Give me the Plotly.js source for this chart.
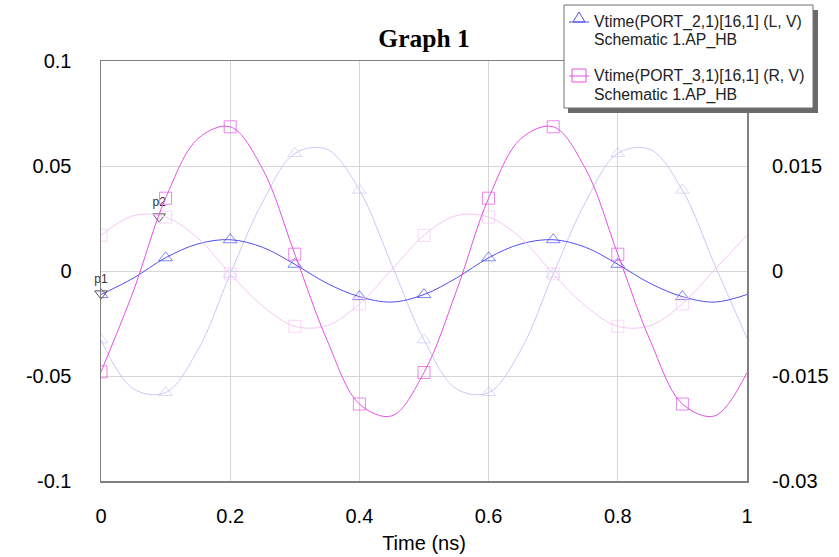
<!DOCTYPE html>
<html>
<head>
<meta charset="utf-8">
<script src="https://cdn.plot.ly/plotly-3.0.1.min.js"></script>
<style>html,body{margin:0;padding:0;background:#fff;}#chart{width:839px;height:557px;}</style>
</head>
<body>
<div id="chart"></div>
<script>
// Time axis samples (ns)
const time = [0,0.05,0.1,0.15,0.2,0.25,0.3,0.35,0.4,0.45,0.5,0.55,0.6,0.65,0.7,0.75,0.8,0.85,0.9,0.95,1.0];
// Vtime(PORT_2) – left axis (V)
const vPort2 = [-0.0112,-0.0034,0.0063,0.0129,0.0149,0.0113,0.0032,-0.0059,-0.0122,-0.0148,-0.0112,-0.0034,0.0063,0.0129,0.0149,0.0113,0.0032,-0.0059,-0.0122,-0.0148,-0.0112];
// Vtime(PORT_3) – right axis (V)
const vPort3 = [-0.0144,-0.0029,0.0104,0.0189,0.0206,0.0146,0.0024,-0.0099,-0.0190,-0.0207,-0.0145,-0.0029,0.0104,0.0189,0.0206,0.0146,0.0024,-0.0099,-0.0190,-0.0207,-0.0145];
// faded (previous) traces
const vPort2Ghost = [-0.0328,-0.0561,-0.0579,-0.0376,-0.0015,0.0328,0.0560,0.0579,0.0385,0.0030,-0.0328,-0.0561,-0.0579,-0.0376,-0.0015,0.0328,0.0560,0.0579,0.0385,0.0030,-0.0320];
const vPort3Ghost = [0.0051,0.0079,0.0077,0.0047,-0.0004,-0.0050,-0.0079,-0.0078,-0.0047,0.0002,0.0051,0.0079,0.0077,0.0047,-0.0004,-0.0050,-0.0079,-0.0078,-0.0047,0.0002,0.0051];
// data markers p1, p2 (left axis units)
const markerNames = ['p1','p2'];
const markerX = [0, 0.09];
const markerY = [-0.0108, 0.0259];
// ticks
const xTicks = [0,0.2,0.4,0.6,0.8,1];
const xTickText = ['0','0.2','0.4','0.6','0.8','1'];
const yTicks = [-0.1,-0.05,0,0.05,0.1];
const yTickText = ['-0.1','-0.05','0','0.05','0.1'];
const y2Ticks = [-0.03,-0.015,0,0.015];
const y2TickText = ['-0.03','-0.015','0','0.015'];
// legend texts
const seriesNames = ['Vtime(PORT_2,1)[16,1] (L, V)','Vtime(PORT_3,1)[16,1] (R, V)'];
const seriesSources = ['Schematic 1.AP_HB','Schematic 1.AP_HB'];

const mk = time.map((t,i) => (i % 2 === 0 && i < time.length - 1) ? 12 : 0);
const FONT = 'Liberation Sans, Arial, sans-serif';
const BLUE = '#5050ee', PINK = '#e650e6', LBLUE = '#c9c9f6', LPINK = '#f6c6f6';

const traces = [
  {x: time, y: vPort2Ghost, yaxis: 'y', mode: 'lines+markers', line: {shape: 'spline', color: LBLUE, width: 1},
   marker: {symbol: 'triangle-up-open', size: mk, color: LBLUE, line: {width: 1}}, showlegend: false, hoverinfo: 'skip'},
  {x: time, y: vPort3Ghost, yaxis: 'y2', mode: 'lines+markers', line: {shape: 'spline', color: LPINK, width: 1},
   marker: {symbol: 'square-open', size: mk, color: LPINK, line: {width: 1}}, showlegend: false, hoverinfo: 'skip'},
  {x: time, y: vPort2, yaxis: 'y', name: seriesNames[0], mode: 'lines+markers', line: {shape: 'spline', color: BLUE, width: 1},
   marker: {symbol: 'triangle-up-open', size: mk, color: BLUE, line: {width: 1}}, showlegend: false},
  {x: time, y: vPort3, yaxis: 'y2', name: seriesNames[1], mode: 'lines+markers', line: {shape: 'spline', color: PINK, width: 1},
   marker: {symbol: 'square-open', size: mk, color: PINK, line: {width: 1}}, showlegend: false},
  {x: markerX, y: markerY, yaxis: 'y', mode: 'markers+text', text: markerNames, textposition: 'top center', cliponaxis: false,
   textfont: {family: FONT, size: 12, color: '#333'},
   marker: {symbol: 'triangle-down-open', size: 11, color: '#555', line: {width: 1}}, showlegend: false, hoverinfo: 'skip'}
];

// pixel -> paper helpers for the hand-drawn legend box
const PL = 101, PR = 747, PT = 61, PB = 481;
const px = v => (v - PL) / (PR - PL);
const py = v => (PB - v) / (PB - PT);

const legendColors = [BLUE, PINK];
const rowY = [22, 76];
const shapes = [
  {type: 'rect', xref: 'paper', yref: 'paper', x0: px(568), x1: px(818), y0: py(113), y1: py(10),
   fillcolor: '#6a6a6a', line: {width: 0}, layer: 'above'},
  {type: 'rect', xref: 'paper', yref: 'paper', x0: px(564), x1: px(813), y0: py(108), y1: py(5),
   fillcolor: '#ffffff', line: {width: 1, color: '#707070'}, layer: 'above'}
];
rowY.forEach((ry, i) => {
  shapes.push({type: 'line', xref: 'paper', yref: 'paper', x0: px(569), x1: px(589), y0: py(ry), y1: py(ry),
               line: {color: legendColors[i], width: 1}, layer: 'above'});
});
shapes.push({type: 'path', xref: 'paper', yref: 'paper', layer: 'above',
  path: `M ${px(573)} ${py(22)} L ${px(585)} ${py(22)} L ${px(579)} ${py(12)} Z`,
  fillcolor: 'rgba(0,0,0,0)', line: {color: BLUE, width: 1}});
shapes.push({type: 'rect', xref: 'paper', yref: 'paper', layer: 'above',
  x0: px(572), x1: px(586), y0: py(82), y1: py(69),
  fillcolor: 'rgba(0,0,0,0)', line: {color: PINK, width: 1}});

const annotations = [];
rowY.forEach((ry, i) => {
  annotations.push({xref: 'paper', yref: 'paper', x: px(592), y: py(ry), xanchor: 'left', yanchor: 'middle',
    text: seriesNames[i], showarrow: false, font: {family: FONT, size: 15.8, color: '#222'}});
  annotations.push({xref: 'paper', yref: 'paper', x: px(592), y: py(ry + 18.5), xanchor: 'left', yanchor: 'middle',
    text: seriesSources[i], showarrow: false, font: {family: FONT, size: 15.8, color: '#222'}});
});

const layout = {
  width: 839, height: 557,
  margin: {l: PL, r: 839 - PR, t: PT, b: 557 - PB, pad: 0, autoexpand: false},
  paper_bgcolor: '#ffffff', plot_bgcolor: '#ffffff',
  font: {family: FONT, size: 20, color: '#000'},
  title: {text: '<b>Graph 1</b>', font: {family: 'Liberation Serif, Times New Roman, serif', size: 25.5, color: '#000'},
          x: 0.5, xref: 'paper', y: 0.931, yref: 'container', yanchor: 'middle'},
  xaxis: {range: [0, 1], tickvals: xTicks, ticktext: xTickText, showgrid: true, gridcolor: '#d6d6d6', gridwidth: 1,
          showline: true, linecolor: '#808080', linewidth: 1.5, mirror: true, zeroline: false, ticks: '',
          ticklabelstandoff: 16, tickfont: {size: 20, family: FONT, color: '#000'},
          title: {text: 'Time (ns)', font: {size: 20, family: FONT, color: '#000'}, standoff: 10}},
  yaxis: {range: [-0.1, 0.1], tickvals: yTicks, ticktext: yTickText, showgrid: true, gridcolor: '#d6d6d6', gridwidth: 1,
          showline: true, linecolor: '#808080', linewidth: 1.5, mirror: true, zeroline: false, ticks: '',
          ticklabelstandoff: 24, tickfont: {size: 20, family: FONT, color: '#000'}},
  yaxis2: {range: [-0.03, 0.03], overlaying: 'y', side: 'right', tickvals: y2Ticks, ticktext: y2TickText,
           showgrid: false, zeroline: false, showline: false, ticks: '', ticklabelstandoff: 24,
           tickfont: {size: 20, family: FONT, color: '#000'}},
  shapes: shapes,
  annotations: annotations,
  showlegend: false
};

Plotly.newPlot('chart', traces, layout, {displayModeBar: false, staticPlot: true});
</script>
</body>
</html>
